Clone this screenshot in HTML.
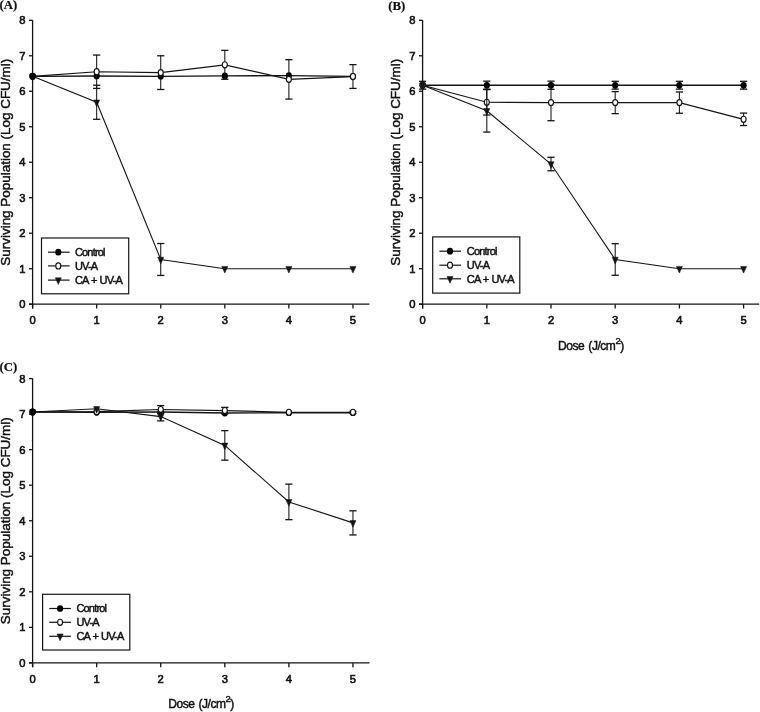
<!DOCTYPE html>
<html><head><meta charset="utf-8"><style>
html,body{margin:0;padding:0;background:#fff;}
body{width:760px;height:712px;overflow:hidden;}
svg{display:block;will-change:transform;}
text{font-family:"Liberation Sans",sans-serif;fill:#111;stroke:#111;stroke-width:0.45px;}
.pl{font-family:"Liberation Serif",serif;font-weight:bold;font-size:12.8px;stroke-width:0.2px;}
.tk{font-size:11.2px;stroke-width:0.6px;}
.yl{font-size:13.45px;}
.xl{font-size:12px;letter-spacing:-0.45px;word-spacing:1.2px;}
.sup{font-size:9.4px;}
.lg{font-size:11px;letter-spacing:-0.8px;word-spacing:0.7px;}
</style></head><body>
<svg width="760" height="712" viewBox="0 0 760 712">
<g stroke="#141414" fill="none">
<line x1="32.6" y1="20.3" x2="32.6" y2="308.5" stroke-width="1.3"/>
<line x1="29" y1="304.2" x2="369.4" y2="304.2" stroke-width="1.3"/>
<line x1="29" y1="304.2" x2="32.6" y2="304.2" stroke-width="1.3"/>
<line x1="29" y1="268.71" x2="32.6" y2="268.71" stroke-width="1.3"/>
<line x1="29" y1="233.22" x2="32.6" y2="233.22" stroke-width="1.3"/>
<line x1="29" y1="197.73" x2="32.6" y2="197.73" stroke-width="1.3"/>
<line x1="29" y1="162.24" x2="32.6" y2="162.24" stroke-width="1.3"/>
<line x1="29" y1="126.75" x2="32.6" y2="126.75" stroke-width="1.3"/>
<line x1="29" y1="91.26" x2="32.6" y2="91.26" stroke-width="1.3"/>
<line x1="29" y1="55.77" x2="32.6" y2="55.77" stroke-width="1.3"/>
<line x1="29" y1="20.28" x2="32.6" y2="20.28" stroke-width="1.3"/>
<line x1="32.6" y1="304.2" x2="32.6" y2="308.5" stroke-width="1.3"/>
<line x1="96.67" y1="304.2" x2="96.67" y2="308.5" stroke-width="1.3"/>
<line x1="160.74" y1="304.2" x2="160.74" y2="308.5" stroke-width="1.3"/>
<line x1="224.81" y1="304.2" x2="224.81" y2="308.5" stroke-width="1.3"/>
<line x1="288.88" y1="304.2" x2="288.88" y2="308.5" stroke-width="1.3"/>
<line x1="352.95" y1="304.2" x2="352.95" y2="308.5" stroke-width="1.3"/>
<polyline points="32.6,76.35 96.67,76 160.74,76.35 224.81,75.89 288.88,75.64 352.95,76.35" fill="none" stroke-width="1.45"/>
<polyline points="32.6,76.35 96.67,71.74 160.74,72.63 224.81,64.82 288.88,79.37 352.95,76.53" fill="none" stroke-width="1.2"/>
<polyline points="32.6,76.35 96.67,102.26 160.74,259.48 224.81,268.71 288.88,268.71 352.95,268.71" fill="none" stroke-width="1.1"/>
<ellipse cx="32.6" cy="76.35" rx="3.1" ry="3.35" fill="#000" stroke="none"/>
<ellipse cx="96.67" cy="76" rx="3.1" ry="3.35" fill="#000" stroke="none"/>
<ellipse cx="160.74" cy="76.35" rx="3.1" ry="3.35" fill="#000" stroke="none"/>
<ellipse cx="224.81" cy="75.89" rx="3.1" ry="3.35" fill="#000" stroke="none"/>
<ellipse cx="288.88" cy="75.64" rx="3.1" ry="3.35" fill="#000" stroke="none"/>
<ellipse cx="352.95" cy="76.35" rx="3.1" ry="3.35" fill="#000" stroke="none"/>
<line x1="96.67" y1="55.06" x2="96.67" y2="88.42" stroke-width="1.05"/>
<line x1="93.07" y1="55.06" x2="100.27" y2="55.06" stroke-width="1.3"/>
<line x1="93.07" y1="88.42" x2="100.27" y2="88.42" stroke-width="1.3"/>
<line x1="160.74" y1="55.77" x2="160.74" y2="89.49" stroke-width="1.05"/>
<line x1="157.14" y1="55.77" x2="164.34" y2="55.77" stroke-width="1.3"/>
<line x1="157.14" y1="89.49" x2="164.34" y2="89.49" stroke-width="1.3"/>
<line x1="224.81" y1="50.38" x2="224.81" y2="79.26" stroke-width="1.05"/>
<line x1="221.21" y1="50.38" x2="228.41" y2="50.38" stroke-width="1.3"/>
<line x1="221.21" y1="79.26" x2="228.41" y2="79.26" stroke-width="1.3"/>
<line x1="288.88" y1="59.67" x2="288.88" y2="99.07" stroke-width="1.05"/>
<line x1="285.28" y1="59.67" x2="292.48" y2="59.67" stroke-width="1.3"/>
<line x1="285.28" y1="99.07" x2="292.48" y2="99.07" stroke-width="1.3"/>
<line x1="352.95" y1="64.64" x2="352.95" y2="88.42" stroke-width="1.05"/>
<line x1="349.35" y1="64.64" x2="356.55" y2="64.64" stroke-width="1.3"/>
<line x1="349.35" y1="88.42" x2="356.55" y2="88.42" stroke-width="1.3"/>
<ellipse cx="32.6" cy="76.35" rx="2.5" ry="3.05" fill="#fff" stroke-width="1.15"/>
<ellipse cx="96.67" cy="71.74" rx="2.5" ry="3.05" fill="#fff" stroke-width="1.15"/>
<ellipse cx="160.74" cy="72.63" rx="2.5" ry="3.05" fill="#fff" stroke-width="1.15"/>
<ellipse cx="224.81" cy="64.82" rx="2.5" ry="3.05" fill="#fff" stroke-width="1.15"/>
<ellipse cx="288.88" cy="79.37" rx="2.5" ry="3.05" fill="#fff" stroke-width="1.15"/>
<ellipse cx="352.95" cy="76.53" rx="2.5" ry="3.05" fill="#fff" stroke-width="1.15"/>
<line x1="96.67" y1="85.23" x2="96.67" y2="119.3" stroke-width="1.05"/>
<line x1="93.07" y1="85.23" x2="100.27" y2="85.23" stroke-width="1.3"/>
<line x1="93.07" y1="119.3" x2="100.27" y2="119.3" stroke-width="1.3"/>
<line x1="160.74" y1="243.51" x2="160.74" y2="275.45" stroke-width="1.05"/>
<line x1="157.14" y1="243.51" x2="164.34" y2="243.51" stroke-width="1.3"/>
<line x1="157.14" y1="275.45" x2="164.34" y2="275.45" stroke-width="1.3"/>
<path d="M29.55,74.05H35.65L32.6,80.75Z" fill="#141414" stroke-width="0.5"/>
<path d="M93.62,99.96H99.72L96.67,106.66Z" fill="#141414" stroke-width="0.5"/>
<path d="M157.69,257.18H163.79L160.74,263.88Z" fill="#141414" stroke-width="0.5"/>
<path d="M221.76,266.41H227.86L224.81,273.11Z" fill="#141414" stroke-width="0.5"/>
<path d="M285.83,266.41H291.93L288.88,273.11Z" fill="#141414" stroke-width="0.5"/>
<path d="M349.9,266.41H356L352.95,273.11Z" fill="#141414" stroke-width="0.5"/>
<ellipse cx="32.6" cy="76.35" rx="3.1" ry="3.35" fill="#000" stroke="none"/>
<rect x="41.5" y="238" width="87.2" height="55.8" fill="none" stroke-width="1.2"/>
<line x1="48" y1="252.2" x2="69.6" y2="252.2" stroke-width="1.2"/>
<ellipse cx="58.3" cy="252.2" rx="3.1" ry="3.35" fill="#000" stroke="none"/>
<line x1="48" y1="265.9" x2="69.6" y2="265.9" stroke-width="1.2"/>
<ellipse cx="58.3" cy="265.9" rx="2.5" ry="3.05" fill="#fff" stroke-width="1.15"/>
<line x1="48" y1="280.1" x2="69.6" y2="280.1" stroke-width="1.2"/>
<path d="M55.25,277.8H61.35L58.3,284.5Z" fill="#141414" stroke-width="0.5"/>
<line x1="422.6" y1="20.3" x2="422.6" y2="308.5" stroke-width="1.3"/>
<line x1="419" y1="304.2" x2="759.2" y2="304.2" stroke-width="1.3"/>
<line x1="419" y1="304.2" x2="422.6" y2="304.2" stroke-width="1.3"/>
<line x1="419" y1="268.71" x2="422.6" y2="268.71" stroke-width="1.3"/>
<line x1="419" y1="233.22" x2="422.6" y2="233.22" stroke-width="1.3"/>
<line x1="419" y1="197.73" x2="422.6" y2="197.73" stroke-width="1.3"/>
<line x1="419" y1="162.24" x2="422.6" y2="162.24" stroke-width="1.3"/>
<line x1="419" y1="126.75" x2="422.6" y2="126.75" stroke-width="1.3"/>
<line x1="419" y1="91.26" x2="422.6" y2="91.26" stroke-width="1.3"/>
<line x1="419" y1="55.77" x2="422.6" y2="55.77" stroke-width="1.3"/>
<line x1="419" y1="20.28" x2="422.6" y2="20.28" stroke-width="1.3"/>
<line x1="422.6" y1="304.2" x2="422.6" y2="308.5" stroke-width="1.3"/>
<line x1="486.8" y1="304.2" x2="486.8" y2="308.5" stroke-width="1.3"/>
<line x1="551" y1="304.2" x2="551" y2="308.5" stroke-width="1.3"/>
<line x1="615.2" y1="304.2" x2="615.2" y2="308.5" stroke-width="1.3"/>
<line x1="679.4" y1="304.2" x2="679.4" y2="308.5" stroke-width="1.3"/>
<line x1="743.6" y1="304.2" x2="743.6" y2="308.5" stroke-width="1.3"/>
<polyline points="422.6,85.23 486.8,85.23 551,85.23 615.2,85.23 679.4,85.23 743.6,85.23" fill="none" stroke-width="1.45"/>
<polyline points="422.6,85.23 486.8,102.26 551,102.62 615.2,102.62 679.4,102.62 743.6,119.3" fill="none" stroke-width="1.2"/>
<polyline points="422.6,85.23 486.8,110.78 551,164.01 615.2,259.48 679.4,268.71 743.6,268.71" fill="none" stroke-width="1.1"/>
<line x1="422.6" y1="81.32" x2="422.6" y2="89.13" stroke-width="1.05"/>
<line x1="419" y1="81.32" x2="426.2" y2="81.32" stroke-width="1.3"/>
<line x1="419" y1="89.13" x2="426.2" y2="89.13" stroke-width="1.3"/>
<line x1="486.8" y1="81.15" x2="486.8" y2="89.31" stroke-width="1.05"/>
<line x1="483.2" y1="81.15" x2="490.4" y2="81.15" stroke-width="1.3"/>
<line x1="483.2" y1="89.31" x2="490.4" y2="89.31" stroke-width="1.3"/>
<line x1="551" y1="81.15" x2="551" y2="89.31" stroke-width="1.05"/>
<line x1="547.4" y1="81.15" x2="554.6" y2="81.15" stroke-width="1.3"/>
<line x1="547.4" y1="89.31" x2="554.6" y2="89.31" stroke-width="1.3"/>
<line x1="615.2" y1="81.32" x2="615.2" y2="89.13" stroke-width="1.05"/>
<line x1="611.6" y1="81.32" x2="618.8" y2="81.32" stroke-width="1.3"/>
<line x1="611.6" y1="89.13" x2="618.8" y2="89.13" stroke-width="1.3"/>
<line x1="679.4" y1="81.32" x2="679.4" y2="89.13" stroke-width="1.05"/>
<line x1="675.8" y1="81.32" x2="683" y2="81.32" stroke-width="1.3"/>
<line x1="675.8" y1="89.13" x2="683" y2="89.13" stroke-width="1.3"/>
<line x1="743.6" y1="81.32" x2="743.6" y2="89.13" stroke-width="1.05"/>
<line x1="740" y1="81.32" x2="747.2" y2="81.32" stroke-width="1.3"/>
<line x1="740" y1="89.13" x2="747.2" y2="89.13" stroke-width="1.3"/>
<ellipse cx="422.6" cy="85.23" rx="3.1" ry="3.35" fill="#000" stroke="none"/>
<ellipse cx="486.8" cy="85.23" rx="3.1" ry="3.35" fill="#000" stroke="none"/>
<ellipse cx="551" cy="85.23" rx="3.1" ry="3.35" fill="#000" stroke="none"/>
<ellipse cx="615.2" cy="85.23" rx="3.1" ry="3.35" fill="#000" stroke="none"/>
<ellipse cx="679.4" cy="85.23" rx="3.1" ry="3.35" fill="#000" stroke="none"/>
<ellipse cx="743.6" cy="85.23" rx="3.1" ry="3.35" fill="#000" stroke="none"/>
<line x1="486.8" y1="89.49" x2="486.8" y2="115.04" stroke-width="1.05"/>
<line x1="483.2" y1="89.49" x2="490.4" y2="89.49" stroke-width="1.3"/>
<line x1="483.2" y1="115.04" x2="490.4" y2="115.04" stroke-width="1.3"/>
<line x1="551" y1="84.52" x2="551" y2="120.72" stroke-width="1.05"/>
<line x1="547.4" y1="84.52" x2="554.6" y2="84.52" stroke-width="1.3"/>
<line x1="547.4" y1="120.72" x2="554.6" y2="120.72" stroke-width="1.3"/>
<line x1="615.2" y1="91.61" x2="615.2" y2="113.62" stroke-width="1.05"/>
<line x1="611.6" y1="91.61" x2="618.8" y2="91.61" stroke-width="1.3"/>
<line x1="611.6" y1="113.62" x2="618.8" y2="113.62" stroke-width="1.3"/>
<line x1="679.4" y1="91.97" x2="679.4" y2="113.26" stroke-width="1.05"/>
<line x1="675.8" y1="91.97" x2="683" y2="91.97" stroke-width="1.3"/>
<line x1="675.8" y1="113.26" x2="683" y2="113.26" stroke-width="1.3"/>
<line x1="743.6" y1="113.09" x2="743.6" y2="125.51" stroke-width="1.05"/>
<line x1="740" y1="113.09" x2="747.2" y2="113.09" stroke-width="1.3"/>
<line x1="740" y1="125.51" x2="747.2" y2="125.51" stroke-width="1.3"/>
<ellipse cx="422.6" cy="85.23" rx="2.5" ry="3.05" fill="#fff" stroke-width="1.15"/>
<ellipse cx="486.8" cy="102.26" rx="2.5" ry="3.05" fill="#fff" stroke-width="1.15"/>
<ellipse cx="551" cy="102.62" rx="2.5" ry="3.05" fill="#fff" stroke-width="1.15"/>
<ellipse cx="615.2" cy="102.62" rx="2.5" ry="3.05" fill="#fff" stroke-width="1.15"/>
<ellipse cx="679.4" cy="102.62" rx="2.5" ry="3.05" fill="#fff" stroke-width="1.15"/>
<ellipse cx="743.6" cy="119.3" rx="2.5" ry="3.05" fill="#fff" stroke-width="1.15"/>
<line x1="486.8" y1="89.49" x2="486.8" y2="132.07" stroke-width="1.05"/>
<line x1="483.2" y1="89.49" x2="490.4" y2="89.49" stroke-width="1.3"/>
<line x1="483.2" y1="132.07" x2="490.4" y2="132.07" stroke-width="1.3"/>
<line x1="551" y1="157.27" x2="551" y2="170.76" stroke-width="1.05"/>
<line x1="547.4" y1="157.27" x2="554.6" y2="157.27" stroke-width="1.3"/>
<line x1="547.4" y1="170.76" x2="554.6" y2="170.76" stroke-width="1.3"/>
<line x1="615.2" y1="243.69" x2="615.2" y2="275.28" stroke-width="1.05"/>
<line x1="611.6" y1="243.69" x2="618.8" y2="243.69" stroke-width="1.3"/>
<line x1="611.6" y1="275.28" x2="618.8" y2="275.28" stroke-width="1.3"/>
<path d="M419.55,82.93H425.65L422.6,89.63Z" fill="#141414" stroke-width="0.5"/>
<path d="M483.75,108.48H489.85L486.8,115.18Z" fill="#141414" stroke-width="0.5"/>
<path d="M547.95,161.71H554.05L551,168.41Z" fill="#141414" stroke-width="0.5"/>
<path d="M612.15,257.18H618.25L615.2,263.88Z" fill="#141414" stroke-width="0.5"/>
<path d="M676.35,266.41H682.45L679.4,273.11Z" fill="#141414" stroke-width="0.5"/>
<path d="M740.55,266.41H746.65L743.6,273.11Z" fill="#141414" stroke-width="0.5"/>
<rect x="432.7" y="236.9" width="87.1" height="56.2" fill="none" stroke-width="1.2"/>
<line x1="439.4" y1="251.2" x2="461" y2="251.2" stroke-width="1.2"/>
<ellipse cx="450" cy="251.2" rx="3.1" ry="3.35" fill="#000" stroke="none"/>
<line x1="439.4" y1="265.2" x2="461" y2="265.2" stroke-width="1.2"/>
<ellipse cx="450" cy="265.2" rx="2.5" ry="3.05" fill="#fff" stroke-width="1.15"/>
<line x1="439.4" y1="278.8" x2="461" y2="278.8" stroke-width="1.2"/>
<path d="M446.95,276.5H453.05L450,283.2Z" fill="#141414" stroke-width="0.5"/>
<line x1="32.6" y1="378.6" x2="32.6" y2="667.2" stroke-width="1.3"/>
<line x1="29" y1="662.9" x2="369.5" y2="662.9" stroke-width="1.3"/>
<line x1="29" y1="662.9" x2="32.6" y2="662.9" stroke-width="1.3"/>
<line x1="29" y1="627.36" x2="32.6" y2="627.36" stroke-width="1.3"/>
<line x1="29" y1="591.82" x2="32.6" y2="591.82" stroke-width="1.3"/>
<line x1="29" y1="556.28" x2="32.6" y2="556.28" stroke-width="1.3"/>
<line x1="29" y1="520.74" x2="32.6" y2="520.74" stroke-width="1.3"/>
<line x1="29" y1="485.2" x2="32.6" y2="485.2" stroke-width="1.3"/>
<line x1="29" y1="449.66" x2="32.6" y2="449.66" stroke-width="1.3"/>
<line x1="29" y1="414.12" x2="32.6" y2="414.12" stroke-width="1.3"/>
<line x1="29" y1="378.58" x2="32.6" y2="378.58" stroke-width="1.3"/>
<line x1="32.6" y1="662.9" x2="32.6" y2="667.2" stroke-width="1.3"/>
<line x1="96.67" y1="662.9" x2="96.67" y2="667.2" stroke-width="1.3"/>
<line x1="160.74" y1="662.9" x2="160.74" y2="667.2" stroke-width="1.3"/>
<line x1="224.81" y1="662.9" x2="224.81" y2="667.2" stroke-width="1.3"/>
<line x1="288.88" y1="662.9" x2="288.88" y2="667.2" stroke-width="1.3"/>
<line x1="352.95" y1="662.9" x2="352.95" y2="667.2" stroke-width="1.3"/>
<polyline points="32.6,411.99 96.67,412.34 160.74,411.99 224.81,413.05 288.88,412.7 352.95,412.7" fill="none" stroke-width="1.45"/>
<polyline points="32.6,411.99 96.67,411.63 160.74,409.5 224.81,410.57 288.88,412.34 352.95,412.34" fill="none" stroke-width="1.2"/>
<polyline points="32.6,411.99 96.67,408.79 160.74,416.61 224.81,445.4 288.88,501.9 352.95,522.87" fill="none" stroke-width="1.1"/>
<ellipse cx="32.6" cy="411.99" rx="3.1" ry="3.35" fill="#000" stroke="none"/>
<ellipse cx="96.67" cy="412.34" rx="3.1" ry="3.35" fill="#000" stroke="none"/>
<ellipse cx="160.74" cy="411.99" rx="3.1" ry="3.35" fill="#000" stroke="none"/>
<ellipse cx="224.81" cy="413.05" rx="3.1" ry="3.35" fill="#000" stroke="none"/>
<ellipse cx="288.88" cy="412.7" rx="3.1" ry="3.35" fill="#000" stroke="none"/>
<ellipse cx="352.95" cy="412.7" rx="3.1" ry="3.35" fill="#000" stroke="none"/>
<line x1="160.74" y1="405.59" x2="160.74" y2="413.41" stroke-width="1.05"/>
<line x1="157.14" y1="405.59" x2="164.34" y2="405.59" stroke-width="1.3"/>
<line x1="157.14" y1="413.41" x2="164.34" y2="413.41" stroke-width="1.3"/>
<line x1="224.81" y1="407.37" x2="224.81" y2="413.76" stroke-width="1.05"/>
<line x1="221.21" y1="407.37" x2="228.41" y2="407.37" stroke-width="1.3"/>
<line x1="221.21" y1="413.76" x2="228.41" y2="413.76" stroke-width="1.3"/>
<line x1="352.95" y1="411.28" x2="352.95" y2="413.41" stroke-width="1.05"/>
<line x1="349.35" y1="411.28" x2="356.55" y2="411.28" stroke-width="1.3"/>
<line x1="349.35" y1="413.41" x2="356.55" y2="413.41" stroke-width="1.3"/>
<ellipse cx="32.6" cy="411.99" rx="2.5" ry="3.05" fill="#fff" stroke-width="1.15"/>
<ellipse cx="96.67" cy="411.63" rx="2.5" ry="3.05" fill="#fff" stroke-width="1.15"/>
<ellipse cx="160.74" cy="409.5" rx="2.5" ry="3.05" fill="#fff" stroke-width="1.15"/>
<ellipse cx="224.81" cy="410.57" rx="2.5" ry="3.05" fill="#fff" stroke-width="1.15"/>
<ellipse cx="288.88" cy="412.34" rx="2.5" ry="3.05" fill="#fff" stroke-width="1.15"/>
<ellipse cx="352.95" cy="412.34" rx="2.5" ry="3.05" fill="#fff" stroke-width="1.15"/>
<line x1="160.74" y1="412.34" x2="160.74" y2="420.87" stroke-width="1.05"/>
<line x1="157.14" y1="412.34" x2="164.34" y2="412.34" stroke-width="1.3"/>
<line x1="157.14" y1="420.87" x2="164.34" y2="420.87" stroke-width="1.3"/>
<line x1="224.81" y1="430.65" x2="224.81" y2="460.14" stroke-width="1.05"/>
<line x1="221.21" y1="430.65" x2="228.41" y2="430.65" stroke-width="1.3"/>
<line x1="221.21" y1="460.14" x2="228.41" y2="460.14" stroke-width="1.3"/>
<line x1="288.88" y1="484.13" x2="288.88" y2="519.67" stroke-width="1.05"/>
<line x1="285.28" y1="484.13" x2="292.48" y2="484.13" stroke-width="1.3"/>
<line x1="285.28" y1="519.67" x2="292.48" y2="519.67" stroke-width="1.3"/>
<line x1="352.95" y1="510.79" x2="352.95" y2="534.96" stroke-width="1.05"/>
<line x1="349.35" y1="510.79" x2="356.55" y2="510.79" stroke-width="1.3"/>
<line x1="349.35" y1="534.96" x2="356.55" y2="534.96" stroke-width="1.3"/>
<path d="M29.55,409.69H35.65L32.6,416.39Z" fill="#141414" stroke-width="0.5"/>
<path d="M93.62,406.49H99.72L96.67,413.19Z" fill="#141414" stroke-width="0.5"/>
<path d="M157.69,414.31H163.79L160.74,421.01Z" fill="#141414" stroke-width="0.5"/>
<path d="M221.76,443.1H227.86L224.81,449.8Z" fill="#141414" stroke-width="0.5"/>
<path d="M285.83,499.6H291.93L288.88,506.3Z" fill="#141414" stroke-width="0.5"/>
<path d="M349.9,520.57H356L352.95,527.27Z" fill="#141414" stroke-width="0.5"/>
<ellipse cx="32.6" cy="411.99" rx="3.1" ry="3.35" fill="#000" stroke="none"/>
<rect x="42.6" y="594.3" width="87.2" height="55.7" fill="none" stroke-width="1.2"/>
<line x1="49.3" y1="608.5" x2="70.9" y2="608.5" stroke-width="1.2"/>
<ellipse cx="60.1" cy="608.5" rx="3.1" ry="3.35" fill="#000" stroke="none"/>
<line x1="49.3" y1="622.3" x2="70.9" y2="622.3" stroke-width="1.2"/>
<ellipse cx="60.1" cy="622.3" rx="2.5" ry="3.05" fill="#fff" stroke-width="1.15"/>
<line x1="49.3" y1="636.3" x2="70.9" y2="636.3" stroke-width="1.2"/>
<path d="M57.05,634H63.15L60.1,640.7Z" fill="#141414" stroke-width="0.5"/>
</g>
<text x="-0.4" y="9.1" class="pl" text-anchor="start" >(A)</text>
<text x="25.4" y="308.2" class="tk" text-anchor="end" >0</text>
<text x="25.4" y="272.71" class="tk" text-anchor="end" >1</text>
<text x="25.4" y="237.22" class="tk" text-anchor="end" >2</text>
<text x="25.4" y="201.73" class="tk" text-anchor="end" >3</text>
<text x="25.4" y="166.24" class="tk" text-anchor="end" >4</text>
<text x="25.4" y="130.75" class="tk" text-anchor="end" >5</text>
<text x="25.4" y="95.26" class="tk" text-anchor="end" >6</text>
<text x="25.4" y="59.77" class="tk" text-anchor="end" >7</text>
<text x="25.4" y="24.28" class="tk" text-anchor="end" >8</text>
<text x="32.6" y="323.8" class="tk" text-anchor="middle" >0</text>
<text x="96.67" y="323.8" class="tk" text-anchor="middle" >1</text>
<text x="160.74" y="323.8" class="tk" text-anchor="middle" >2</text>
<text x="224.81" y="323.8" class="tk" text-anchor="middle" >3</text>
<text x="288.88" y="323.8" class="tk" text-anchor="middle" >4</text>
<text x="352.95" y="323.8" class="tk" text-anchor="middle" >5</text>
<text x="10.4" y="162.25" class="yl" text-anchor="middle" transform="rotate(-90 10.4 162.25)">Surviving Population (Log CFU/ml)</text>
<text x="74.9" y="255.95" class="lg" text-anchor="start" >Control</text>
<text x="74.9" y="269.65" class="lg" text-anchor="start" >UV-A</text>
<text x="74.9" y="283.85" class="lg" text-anchor="start" >CA + UV-A</text>
<text x="388.3" y="9.5" class="pl" text-anchor="start" >(B)</text>
<text x="415.4" y="308.2" class="tk" text-anchor="end" >0</text>
<text x="415.4" y="272.71" class="tk" text-anchor="end" >1</text>
<text x="415.4" y="237.22" class="tk" text-anchor="end" >2</text>
<text x="415.4" y="201.73" class="tk" text-anchor="end" >3</text>
<text x="415.4" y="166.24" class="tk" text-anchor="end" >4</text>
<text x="415.4" y="130.75" class="tk" text-anchor="end" >5</text>
<text x="415.4" y="95.26" class="tk" text-anchor="end" >6</text>
<text x="415.4" y="59.77" class="tk" text-anchor="end" >7</text>
<text x="415.4" y="24.28" class="tk" text-anchor="end" >8</text>
<text x="422.6" y="323.8" class="tk" text-anchor="middle" >0</text>
<text x="486.8" y="323.8" class="tk" text-anchor="middle" >1</text>
<text x="551" y="323.8" class="tk" text-anchor="middle" >2</text>
<text x="615.2" y="323.8" class="tk" text-anchor="middle" >3</text>
<text x="679.4" y="323.8" class="tk" text-anchor="middle" >4</text>
<text x="743.6" y="323.8" class="tk" text-anchor="middle" >5</text>
<text x="400.4" y="162.25" class="yl" text-anchor="middle" transform="rotate(-90 400.4 162.25)">Surviving Population (Log CFU/ml)</text>
<text x="590.9" y="349.5" class="xl" text-anchor="middle">Dose (J/cm<tspan class="sup" dy="-5.9">2</tspan><tspan dy="5.9">)</tspan></text>
<text x="466.8" y="254.95" class="lg" text-anchor="start" >Control</text>
<text x="466.8" y="268.95" class="lg" text-anchor="start" >UV-A</text>
<text x="466.8" y="282.55" class="lg" text-anchor="start" >CA + UV-A</text>
<text x="-0.4" y="371.3" class="pl" text-anchor="start" >(C)</text>
<text x="25.4" y="666.9" class="tk" text-anchor="end" >0</text>
<text x="25.4" y="631.36" class="tk" text-anchor="end" >1</text>
<text x="25.4" y="595.82" class="tk" text-anchor="end" >2</text>
<text x="25.4" y="560.28" class="tk" text-anchor="end" >3</text>
<text x="25.4" y="524.74" class="tk" text-anchor="end" >4</text>
<text x="25.4" y="489.2" class="tk" text-anchor="end" >5</text>
<text x="25.4" y="453.66" class="tk" text-anchor="end" >6</text>
<text x="25.4" y="418.12" class="tk" text-anchor="end" >7</text>
<text x="25.4" y="382.58" class="tk" text-anchor="end" >8</text>
<text x="32.6" y="682.5" class="tk" text-anchor="middle" >0</text>
<text x="96.67" y="682.5" class="tk" text-anchor="middle" >1</text>
<text x="160.74" y="682.5" class="tk" text-anchor="middle" >2</text>
<text x="224.81" y="682.5" class="tk" text-anchor="middle" >3</text>
<text x="288.88" y="682.5" class="tk" text-anchor="middle" >4</text>
<text x="352.95" y="682.5" class="tk" text-anchor="middle" >5</text>
<text x="10.4" y="520.75" class="yl" text-anchor="middle" transform="rotate(-90 10.4 520.75)">Surviving Population (Log CFU/ml)</text>
<text x="201.05" y="708.2" class="xl" text-anchor="middle">Dose (J/cm<tspan class="sup" dy="-5.9">2</tspan><tspan dy="5.9">)</tspan></text>
<text x="76.4" y="612.25" class="lg" text-anchor="start" >Control</text>
<text x="76.4" y="626.05" class="lg" text-anchor="start" >UV-A</text>
<text x="76.4" y="640.05" class="lg" text-anchor="start" >CA + UV-A</text>
</svg>
</body></html>
